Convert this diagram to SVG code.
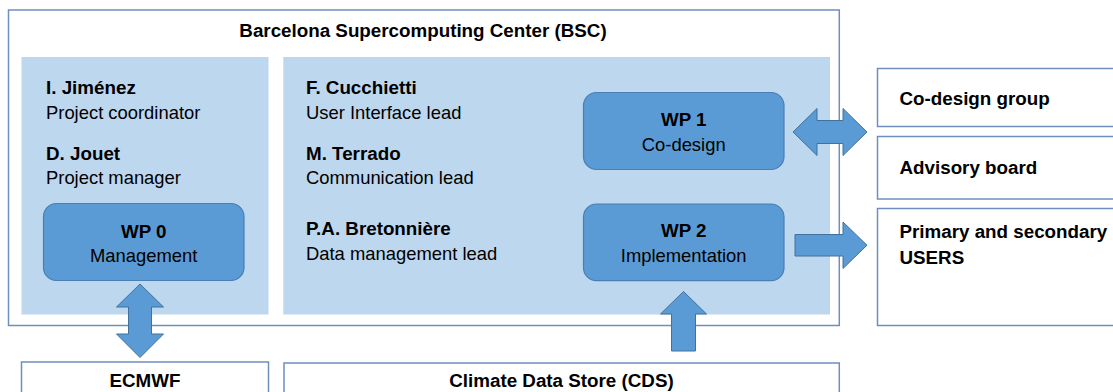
<svg xmlns="http://www.w3.org/2000/svg" width="1113" height="392" viewBox="0 0 1113 392">
<style>
text{font-family:"Liberation Sans",Arial,sans-serif;fill:#000}
.b{font-weight:bold}
.t{font-size:18.8px}
.s{font-size:18.4px}
.frame{fill:#fff;stroke:#6E8EBD;stroke-width:1.5}
.panel{fill:#BDD7EE}
.wp{fill:#5B9BD5;stroke:#4A7EB4;stroke-width:1.2}
.arr{fill:#5B9BD5;stroke:#41719C;stroke-width:1}
.c{text-anchor:middle}
</style>
<g id="bsc">
<rect class="frame" x="8.5" y="10" width="830.8" height="315.5"/>
<text class="b t c" x="423" y="37">Barcelona Supercomputing Center (BSC)</text>
<rect class="panel" x="21.5" y="57" width="247" height="257.5"/>
<rect class="panel" x="283.3" y="57" width="546.7" height="257.5"/>
</g>
<g id="people-left">
<text class="b t" x="46" y="94">I. Jiménez</text>
<text class="s" x="46" y="119">Project coordinator</text>
<text class="b t" x="46" y="159.5">D. Jouet</text>
<text class="s" x="46" y="184">Project manager</text>
</g>
<g id="people-right">
<text class="b t" x="306" y="94">F. Cucchietti</text>
<text class="s" x="306" y="118.5">User Interface lead</text>
<text class="b t" x="306" y="159.5">M. Terrado</text>
<text class="s" x="306" y="183.5">Communication lead</text>
<text class="b t" x="306" y="235">P.A. Bretonnière</text>
<text class="s" x="306" y="260">Data management lead</text>
</g>
<g id="wp0">
<rect class="wp" x="43.5" y="203.5" width="200.5" height="77" rx="13"/>
<text class="b t c" x="143.7" y="237.5">WP 0</text>
<text class="s c" x="143.7" y="261.5">Management</text>
</g>
<g id="wp1">
<rect class="wp" x="583.5" y="92.5" width="200.5" height="77" rx="13"/>
<text class="b t c" x="683.7" y="126">WP 1</text>
<text class="s c" x="683.7" y="150.5">Co-design</text>
</g>
<g id="wp2">
<rect class="wp" x="583.5" y="204" width="200.5" height="76.7" rx="13"/>
<text class="b t c" x="683.7" y="237">WP 2</text>
<text class="s c" x="683.7" y="261.5">Implementation</text>
</g>
<g id="codesign-group">
<rect class="frame" x="877.5" y="68.5" width="250" height="58"/>
<text class="b t" x="899.5" y="105">Co-design group</text>
</g>
<g id="advisory-board">
<rect class="frame" x="877.5" y="136.5" width="250" height="62.5"/>
<text class="b t" x="899.5" y="173.5">Advisory board</text>
</g>
<g id="users">
<rect class="frame" x="877.5" y="208.5" width="250" height="117"/>
<text class="b t" x="899.5" y="237.5">Primary and secondary</text>
<text class="b t" x="899.5" y="263.5">USERS</text>
</g>
<g id="ecmwf">
<rect class="frame" x="21.5" y="362" width="247" height="40"/>
<text class="b t c" x="145" y="387">ECMWF</text>
</g>
<g id="cds">
<rect class="frame" x="284" y="363" width="555.3" height="40"/>
<text class="b t c" x="561.5" y="387">Climate Data Store (CDS)</text>
</g>
<g id="connectors">
<path class="arr" d="M793,132 L817,108.5 L817,120.5 L843,120.5 L843,108.5 L867,132 L843,155.5 L843,143.5 L817,143.5 L817,155.5 Z"/>
<path class="arr" d="M795,234.5 L843,234.5 L843,222 L867,245.2 L843,268.5 L843,256 L795,256 Z"/>
<path class="arr" d="M140,284 L163.5,307 L151.5,307 L151.5,334 L163.5,334 L140,357.5 L116.5,334 L128.5,334 L128.5,307 L116.5,307 Z"/>
<path class="arr" d="M683.5,291.5 L706.5,314 L695.5,314 L695.5,351 L671.5,351 L671.5,314 L660.5,314 Z"/>
</g>
</svg>
